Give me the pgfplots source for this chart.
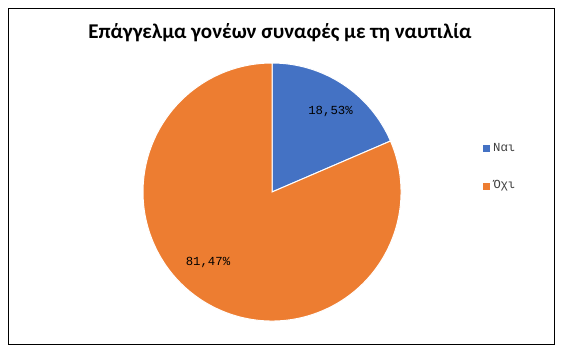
\documentclass[border=0pt]{standalone}
\usepackage{pgfplots}
\pgfplotsset{compat=1.18}
\usepackage{fontspec}
\setmainfont{Carlito}
\newfontfamily\monof{Liberation Mono}
\definecolor{cblue}{HTML}{4472C4}
\definecolor{corange}{HTML}{ED7D31}
\definecolor{ltext}{HTML}{404040}
\begin{document}
\begin{tikzpicture}
\begin{axis}[
  hide axis, scale only axis,
  x=1bp, y=1bp,
  xmin=0, xmax=563, ymin=0, ymax=353,
  clip=false,
]
% values (percent)
\def\vA{18.53}
\def\vB{81.47}
\pgfmathsetmacro{\aEnd}{90-\vA*3.6}
\pgfmathsetmacro{\bEnd}{\aEnd-\vB*3.6}
% full canvas
\path (axis cs:0,0) rectangle (axis cs:563,353);
% frame
\draw[black, line width=1bp] (axis cs:8.5,8.5) rectangle (axis cs:554.5,344.5);
% title
\node[font=\fontsize{21bp}{24bp}\selectfont\bfseries] at (axis cs:280,320) {Επάγγελμα γονέων συναφές με τη ναυτιλία};
% slices
\fill[cblue, draw=white, line width=1bp] (axis cs:272,161) -- ++(90:129bp) arc[start angle=90, end angle=\aEnd, radius=129bp] -- cycle;
\fill[corange, draw=white, line width=1bp] (axis cs:272,161) -- ++(\aEnd:129bp) arc[start angle=\aEnd, end angle=\bEnd, radius=129bp] -- cycle;
% data labels
\node[font=\monof\fontsize{12.3bp}{14bp}\selectfont] at (axis cs:330.5,242) {18,53\%};
\node[font=\monof\fontsize{12.3bp}{14bp}\selectfont] at (axis cs:208,91) {81,47\%};
% legend
\fill[cblue] (axis cs:483,201.5) rectangle (axis cs:490,208.5);
\node[anchor=west, text=ltext, font=\monof\fontsize{12.3bp}{14bp}\selectfont, inner sep=0pt] at (axis cs:493,205) {Ναι};
\fill[corange] (axis cs:483,163.5) rectangle (axis cs:490,170.5);
\node[anchor=west, text=ltext, font=\monof\fontsize{12.3bp}{14bp}\selectfont, inner sep=0pt] at (axis cs:493,167) {Όχι};
\end{axis}
\end{tikzpicture}
\end{document}
